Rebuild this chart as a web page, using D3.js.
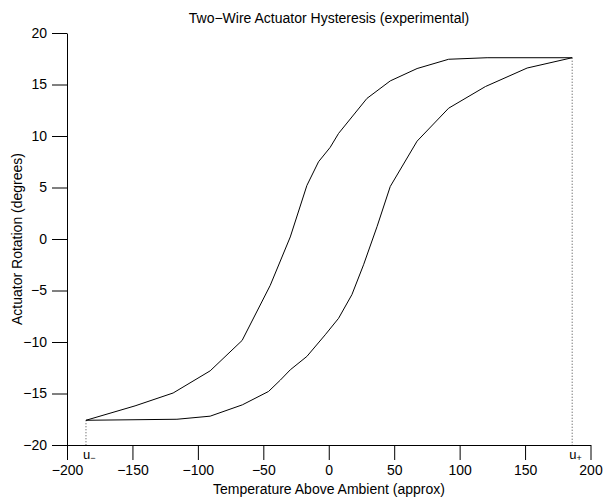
<!DOCTYPE html>
<html>
<head>
<meta charset="utf-8">
<script src="https://cdn.jsdelivr.net/npm/d3@7"></script>
<style>
  html, body { margin: 0; padding: 0; background: #fff; }
  svg { display: block; font-family: "Liberation Sans", Arial, Helvetica, sans-serif; }
</style>
</head>
<body>
<svg id="chart" width="603" height="498"></svg>
<script>
// Heating branch (lower/right curve): temperature vs rotation
const heatTemp = [-185.5, -116, -90.6, -66, -46, -37, -29.4, -16.7, -2.7, 7.5, 17.7, 26.6, 36.9, 47, 67.5, 91.6, 119.7, 151.6, 186];
const heatRot  = [-17.6, -17.5, -17.2, -16.1, -14.8, -13.7, -12.7, -11.4, -9.3, -7.7, -5.4, -2.5, 1.2, 5.1, 9.5, 12.7, 14.8, 16.6, 17.6];

// Cooling branch (upper/left curve)
const coolTemp = [-185.5, -148, -118.9, -90.6, -66.2, -44.7, -29.4, -16.7, -7.8, 1.1, 7.5, 29.2, 47, 67.5, 91.6, 121, 186];
const coolRot  = [-17.6, -16.2, -14.95, -12.8, -9.85, -4.5, 0.2, 5.2, 7.5, 8.9, 10.25, 13.65, 15.35, 16.55, 17.45, 17.6, 17.6];

// Saturation temperatures marked on the axis
const uMinus = -185.5;
const uPlus = 186;

const xTicks = [-200, -150, -100, -50, 0, 50, 100, 150, 200];
const yTicks = [-20, -15, -10, -5, 0, 5, 10, 15, 20];

const svg = d3.select("#chart");
const x = d3.scaleLinear().domain([-200, 200]).range([67, 590.5]);
const y = d3.scaleLinear().domain([-20, 20]).range([445, 33]);

const fmt = d3.format("");
const FS = 14;

// Axes
const xAxis = svg.append("g")
  .attr("transform", `translate(0,${y(-20)})`)
  .call(d3.axisBottom(x).tickValues(xTicks).tickSize(15).tickPadding(5).tickFormat(fmt).tickSizeOuter(0));
const yAxis = svg.append("g")
  .attr("transform", `translate(${x(-200)},0)`)
  .call(d3.axisLeft(y).tickValues(yTicks).tickSize(15).tickPadding(5).tickFormat(fmt).tickSizeOuter(0));

[xAxis, yAxis].forEach(g => {
  g.select(".domain").attr("stroke", "#000").attr("stroke-width", 1);
  g.selectAll(".tick line").attr("stroke", "#000").attr("stroke-width", 1);
  g.selectAll(".tick text").attr("fill", "#000").attr("font-size", FS)
    .attr("font-family", "'Liberation Sans', Arial, Helvetica, sans-serif");
});

// Dotted guides from the saturation points down to the axis
const guides = [[uMinus, coolRot[0]], [uPlus, coolRot[coolRot.length - 1]]];
svg.selectAll("line.guide").data(guides).enter().append("line")
  .attr("class", "guide")
  .attr("x1", d => x(d[0])).attr("x2", d => x(d[0]))
  .attr("y1", d => y(d[1])).attr("y2", y(-20))
  .attr("stroke", "#444").attr("stroke-width", 1)
  .attr("stroke-dasharray", "1,2");

// Hysteresis branches
const line = d3.line().x(d => x(d[0])).y(d => y(d[1]));
const heat = heatTemp.map((t, i) => [t, heatRot[i]]);
const cool = coolTemp.map((t, i) => [t, coolRot[i]]);
[heat, cool].forEach(pts => {
  svg.append("path").datum(pts)
    .attr("d", line)
    .attr("fill", "none")
    .attr("stroke", "#000")
    .attr("stroke-width", 1)
    .attr("stroke-linejoin", "round");
});

// u− / u+ labels under the axis line
const uLabels = [[uMinus, "−"], [uPlus, "+"]];
uLabels.forEach(([v, s]) => {
  const t = svg.append("text")
    .attr("x", x(v) - 3)
    .attr("y", 459)
    .attr("font-size", 13)
    .attr("fill", "#000");
  t.append("tspan").text("u");
  t.append("tspan").attr("dy", 2).attr("font-size", 9).text(s);
});

// Title and axis titles
svg.append("text")
  .attr("x", 329).attr("y", 23)
  .attr("text-anchor", "middle")
  .attr("font-size", FS)
  .text("Two−Wire Actuator Hysteresis (experimental)");

svg.append("text")
  .attr("x", 329).attr("y", 494)
  .attr("text-anchor", "middle")
  .attr("font-size", FS)
  .text("Temperature Above Ambient (approx)");

svg.append("text")
  .attr("transform", `translate(22,${y(0)}) rotate(-90)`)
  .attr("text-anchor", "middle")
  .attr("font-size", FS)
  .text("Actuator Rotation (degrees)");
</script>
</body>
</html>
